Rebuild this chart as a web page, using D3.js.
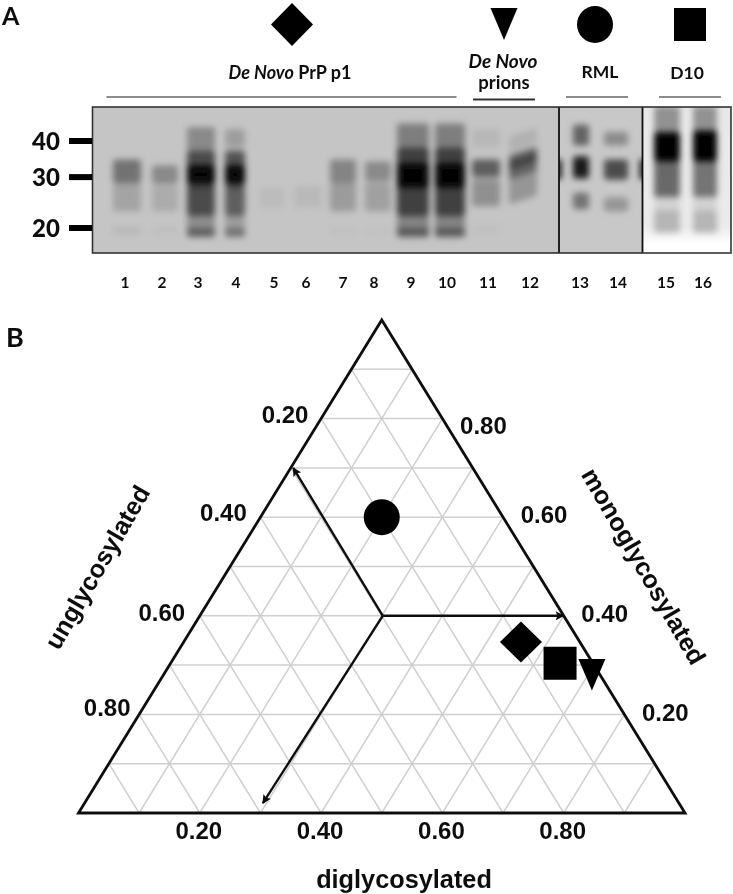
<!DOCTYPE html>
<html><head><meta charset="utf-8">
<script src="https://cdn.jsdelivr.net/npm/d3@7/dist/d3.min.js"></script>
<style>html,body{margin:0;padding:0;background:#fff}svg{display:block}text{fill:#111}</style>
</head><body><div id="c"></div>
<script>
// ---------- Data: panel A ----------
const lanes = d3.range(1, 17);
const mwTicks = [40, 30, 20];
const groupNames = ["De Novo PrP p1", "De Novo prions", "RML", "D10"];
const groupSymbols = ["diamond", "triangle", "circle", "square"];
const bandLane =    [1,1,1, 2,2,2, 3,3,3,3,3,3, 4,4,4,4,4,4, 5, 6, 7,7,7, 8,8,8, 9,9,9,9,9,9, 10,10,10,10,10,10, 11,11,11,11, 12,12,12,12, 13,13,13,13, 14,14,14, 15,15,15,15,15,15,15, 16,16,16,16,16,16,16];
const bandHigh =    [34.5,28.6,20.2, 33,28,20.2, 44.7,37,33,27.8,22,20, 44,37,33,27.8,22,20, 27.5, 28, 34.5,28.6,20, 34,28.6,20, 46,38,33.5,28.5,22,20, 46,38,33.5,28.5,22,20, 44,34.5,29.5,20.5, 43,37,35.5,32, 45.5,35.5,34,26.5, 43,34.5,25.5, 53,43,42,40.5,34.5,23,53, 53,43.5,42.5,41,34.5,23,53];
const bandLow =     [28.6,22.8,19, 28.4,22.8,19, 37,27.5,28.5,22,18.6,18.6, 38,27.5,28.5,22,18.6,18.6, 23.5, 23.5, 28.6,22.8,19, 29,22.8,19, 38,27.5,28,22,18.6,18.6, 38,27.5,28,22,18.6,18.6, 38,30,23.8,19.2, 38,32.5,30.5,25, 38.6,29.6,30.8,23.2, 38.6,29.4,22.8, 43,34,35,36,25.6,19.2,19.2, 43,34,35,36,25.6,19.2,19.2];
const bandDensity = [.42,.17,.07, .3,.13,.04, .3,.62,.92,.62,.28,.33, .2,.58,.92,.52,.2,.28, .05, .06, .33,.21,.04, .3,.19,.03, .36,.68,.92,.68,.33,.33, .36,.68,.92,.68,.33,.33, .07,.52,.27,.03, .1,.45,.36,.24, .5,.8,.42,.42, .3,.62,.25, .3,.95,.9,.65,.5,.14,.1, .3,.95,.9,.65,.45,.14,.1];
const spotHigh = [34.5];
const spotLow = [29.5];

// ---------- Data: panel B ----------
const ternTicks = [0.2, 0.4, 0.6, 0.8];
const gridLevels = d3.range(1, 10).map(d => d / 10);
const sampleSymbol = ["circle", "diamond", "square", "triangle"];
const sampleMono = [0.60, 0.347, 0.304, 0.291];
const sampleUn =   [0.20, 0.097, 0.054, 0.008];
const sampleDi =   [0.20, 0.556, 0.642, 0.701];
const arrowFromT = {mono: 0.4, un: 0.3, di: 0.3};
const arrowTipMono = [0.40, 0.70, 0.02];
const arrowTipUn =   [0.00, 0.296, 0.686];
const arrowTipDi =   [0.60, 0.004, 0.294];

// ---------- Layout ----------
const W = 733, H = 894;
const svg = d3.select("#c").append("svg").attr("width", W).attr("height", H);
const defs = svg.append("defs");
const mkBlur = (id, s) => defs.append("filter").attr("id", id)
  .attr("filterUnits", "userSpaceOnUse").attr("x", 0).attr("y", 0).attr("width", W).attr("height", H)
  .append("feGaussianBlur").attr("stdDeviation", s);
mkBlur("soft", 0.6); mkBlur("band", "3.4 3.2");

const root = svg.append("g").attr("filter", "url(#soft)");
const panelFont = "Lato, 'Open Sans', sans-serif";
const chartFont = "'Liberation Sans', Arial, sans-serif";

// symbols
function symbol(sel, kind, cx, cy, rx, ry) {
  const unit = 100;
  const gen = {
    diamond: d3.symbol(d3.symbolSquare, unit * unit),
    square: d3.symbol(d3.symbolSquare, unit * unit),
    circle: d3.symbol(d3.symbolCircle, Math.PI * 2500),
    triangle: d3.symbol(d3.symbolTriangle, unit * unit)
  }[kind];
  let t = `translate(${cx},${cy})`;
  if (kind === "diamond") t += ` scale(${rx / 70.7},${ry / 70.7}) rotate(45)`;
  else if (kind === "square") t += ` scale(${rx / 50},${ry / 50})`;
  else if (kind === "circle") t += ` scale(${rx / 50},${ry / 50})`;
  else t += ` scale(${rx / 76},${ry / 87.7}) rotate(180)`;
  sel.append("path").attr("d", gen()).attr("transform", t).attr("fill", "#000");
}

// --- panel A scales
const gel = {x0: 92.5, x1: 731, y0: 107, y1: 253, d1: 559, d2: 642.5};
const yMw = d3.scaleLog().domain([20, 40]).range([228, 141]);
const xLane = d3.scaleOrdinal().domain(lanes).range([127,165,201,235,272,308,343,378,413,450,486,523,581,616,667,705]);
const xLabel = d3.scaleOrdinal().domain(lanes).range([125,162,198,236,274,306,343,374,411,447,488,530,580,618,666,703]);
const laneW = d3.scaleOrdinal().domain(lanes).range([28,26,28,20,24,28,26,26,32,30,28,28,16,24,26,24]);
const laneTilt = d3.scaleOrdinal().domain(lanes).range(lanes.map(d => d === 12 ? -18 : 0));

root.append("text").attr("x", 2).attr("y", 25).attr("font-family", panelFont).attr("font-weight", 700).attr("font-size", 25).text("A");
root.append("text").attr("x", 6).attr("y", 347).attr("font-family", panelFont).attr("font-weight", 700).attr("font-size", 27).text("B");

// top symbols
symbol(root, groupSymbols[0], 292, 24.5, 21, 21.5);
symbol(root, groupSymbols[1], 504, 18.7, 13.5, 21.3);
symbol(root, groupSymbols[2], 595, 24.5, 18, 18.5);
symbol(root, groupSymbols[3], 690, 24.5, 16, 16.5);

// group labels
const lab = (x, y, parts, size = 17.5) => {
  const t = root.append("text").attr("x", x).attr("y", y).attr("text-anchor", "middle")
    .attr("font-family", panelFont).attr("font-weight", 700).attr("font-size", size).attr("fill", "#222");
  parts.forEach(p => t.append("tspan").attr("font-style", p[1] ? "italic" : "normal").text(p[0]));
};
lab(290, 79, [["De Novo", 1], [" PrP p1", 0]], 18);
lab(503, 68, [["De Novo", 1]], 19);
lab(504, 89, [["prions", 0]], 18.5);
lab(600, 78, [[groupNames[2], 0]]);
lab(687, 79, [[groupNames[3], 0]]);
[[106.5, 456.5, 97, "#666", 1.4], [473, 535, 99.5, "#333", 2], [566, 628, 97, "#666", 1.4], [659, 721, 97, "#666", 1.4]]
  .forEach(l => root.append("line").attr("x1", l[0]).attr("x2", l[1]).attr("y1", l[2]).attr("y2", l[2]).attr("stroke", l[3]).attr("stroke-width", l[4]));

// gel backgrounds
const grad = defs.append("linearGradient").attr("id", "d10").attr("x1", 0).attr("x2", 0).attr("y1", 0).attr("y2", 1);
[[0, "#e8e8e8"], [0.82, "#ebebeb"], [0.94, "#ffffff"], [1, "#ffffff"]].forEach(s => grad.append("stop").attr("offset", s[0]).attr("stop-color", s[1]));
const panels = [
  {x0: gel.x0, x1: gel.d1, fill: "#c5c5c5", lanes: d3.range(1, 13)},
  {x0: gel.d1, x1: gel.d2, fill: "#c8c8c8", lanes: [13, 14]},
  {x0: gel.d2, x1: gel.x1, fill: "url(#d10)", lanes: [15, 16]}
];
panels.forEach((p, i) => {
  root.append("rect").attr("x", p.x0).attr("y", gel.y0).attr("width", p.x1 - p.x0).attr("height", gel.y1 - gel.y0).attr("fill", p.fill);
  defs.append("clipPath").attr("id", "clip" + i).append("rect").attr("x", p.x0).attr("y", gel.y0).attr("width", p.x1 - p.x0).attr("height", gel.y1 - gel.y0);
  const g = root.append("g").attr("clip-path", `url(#clip${i})`).append("g").attr("filter", "url(#band)");
  bandLane.forEach((l, k) => {
    if (!p.lanes.includes(l)) return;
    const y0 = yMw(bandHigh[k]), y1 = yMw(bandLow[k]), w = laneW(l), cx = xLane(l), cy = (y0 + y1) / 2;
    g.append("rect").attr("x", cx - w / 2).attr("width", w).attr("y", y0).attr("height", y1 - y0)
      .attr("rx", 3).attr("fill", "#000").attr("opacity", bandDensity[k])
      .attr("transform", `translate(${cx},${cy}) skewY(${laneTilt(l)}) translate(${-cx},${-cy})`);
  });
  if (i === 1) {
    [gel.d1 - 5, gel.d2 - 3].forEach(x => g.append("rect").attr("x", x).attr("width", 8)
      .attr("y", yMw(spotHigh[0])).attr("height", yMw(spotLow[0]) - yMw(spotHigh[0])).attr("fill", "#000").attr("opacity", .8));
  }
});
[gel.d1, gel.d2].forEach(x => root.append("line").attr("x1", x).attr("x2", x).attr("y1", gel.y0).attr("y2", gel.y1).attr("stroke", "#111").attr("stroke-width", 1.8));
root.append("rect").attr("x", gel.x0).attr("y", gel.y0).attr("width", gel.x1 - gel.x0).attr("height", gel.y1 - gel.y0)
  .attr("fill", "none").attr("stroke", "#333").attr("stroke-width", 1.6);

// MW axis
mwTicks.forEach(m => {
  root.append("rect").attr("x", 69).attr("width", 23).attr("y", yMw(m) - 3).attr("height", 6).attr("fill", "#000");
  root.append("text").attr("x", 46).attr("y", yMw(m)).attr("dy", "0.36em").attr("text-anchor", "middle")
    .attr("font-family", panelFont).attr("font-weight", 900).attr("font-size", 24).text(m);
});
// lane numbers
root.selectAll("text.lane").data(lanes).join("text").attr("class", "lane")
  .attr("x", d => xLabel(d)).attr("y", 288).attr("text-anchor", "middle")
  .attr("font-family", panelFont).attr("font-weight", 700).attr("font-size", 15.5).attr("fill", "#222").text(d => d);

// --- panel B scales
const corner = {lx: 78.5, rx: 685, ax: 381, by: 813, ay: 320};
const tx = d3.scaleLinear().domain([0, 1]).range([corner.lx, corner.rx]); // position along the base
const ty = d3.scaleLinear().domain([0, 1]).range([corner.by, corner.ay]);
const px = (mono, un, di) => tx(di + mono / 2);
const py = mono => ty(mono);

const grid = root.append("g").attr("stroke", "#cfcfcf").attr("stroke-width", 1.5).attr("fill", "none");
const seg = (g, a, b) => g.append("line")
  .attr("x1", px(a[0], a[1], a[2])).attr("y1", py(a[0])).attr("x2", px(b[0], b[1], b[2])).attr("y2", py(b[0]));
gridLevels.forEach(v => {
  seg(grid, [v, 1 - v, 0], [v, 0, 1 - v]);
  seg(grid, [0, v, 1 - v], [1 - v, v, 0]);
  seg(grid, [0, 1 - v, v], [1 - v, 0, v]);
});
root.append("path").attr("d", d3.line()([[tx(0), ty(0)], [tx(1), ty(0)], [tx(0.5), ty(1)]]) + "Z")
  .attr("fill", "none").attr("stroke", "#111").attr("stroke-width", 2.8).attr("stroke-linejoin", "miter");

// arrows
const mk = defs.append("marker").attr("id", "ah").attr("viewBox", "0 0 10 10").attr("refX", 9).attr("refY", 5)
  .attr("markerWidth", 11).attr("markerHeight", 9).attr("markerUnits", "userSpaceOnUse").attr("orient", "auto");
mk.append("path").attr("d", "M0,0L10,5L0,10L2,5Z").attr("fill", "#111");
arrowTipMono.forEach((m, i) => {
  root.append("line")
    .attr("x1", px(arrowFromT.mono, arrowFromT.un, arrowFromT.di) + 1).attr("y1", py(arrowFromT.mono))
    .attr("x2", px(m, arrowTipUn[i], arrowTipDi[i])).attr("y2", py(m))
    .attr("stroke", "#111").attr("stroke-width", 2.4).attr("marker-end", "url(#ah)");
});

// samples
const sz = {circle: [18, 18], diamond: [21, 20.5], square: [16.5, 16.5], triangle: [13.5, 21]};
sampleSymbol.forEach((s, i) => {
  symbol(root, s, px(sampleMono[i], sampleUn[i], sampleDi[i]), py(sampleMono[i]), sz[s][0], sz[s][1]);
});

// ternary ticks & titles
const tick = (x, y, s) => root.append("text").attr("x", x).attr("y", y).attr("dy", "0.36em").attr("text-anchor", "middle")
  .attr("font-family", chartFont).attr("font-weight", 700).attr("font-size", 24).text(s);
const leftDx = [-36, -37, -38, -32], leftDy = [-4, -5, -3, -7], rightDy = [-2, -2, -3, 7];
ternTicks.forEach((v, i) => {
  const f = v.toFixed(2);
  tick(px(1 - v, v, 0) + leftDx[i], py(1 - v) + leftDy[i], f);   // unglycosylated, left edge
  tick(px(v, 0, 1 - v) + 41, py(v) + rightDy[i], f);             // monoglycosylated, right edge
  tick(tx(v) - 1, 830, f);                                       // diglycosylated, base
});
const title = (x, y, r, s) => root.append("text").attr("text-anchor", "middle").attr("dy", "0.36em")
  .attr("transform", `translate(${x},${y}) rotate(${r})`)
  .attr("font-family", chartFont).attr("font-weight", 700).attr("font-size", 25.3).text(s);
title(404, 879, 0, "diglycosylated");
title(97, 567, -60, "unglycosylated");
title(644, 566, 60, "monoglycosylated");
</script></body></html>
